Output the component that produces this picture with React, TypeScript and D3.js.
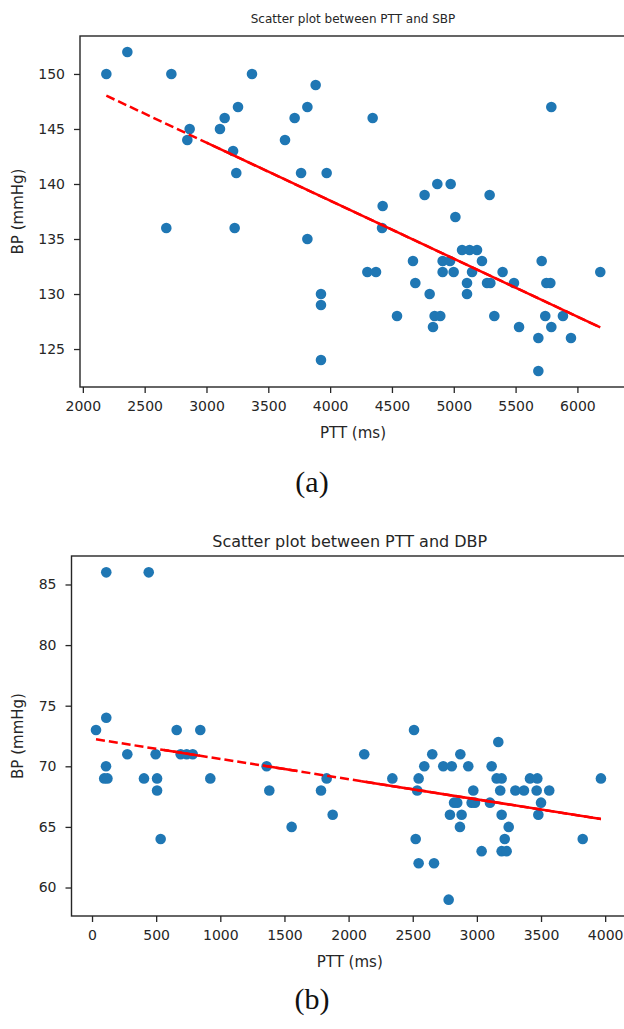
import React, { useEffect, useRef } from 'react';
import * as d3 from 'd3';

// (a) PTT vs systolic BP
const pttA = [
  2190, 2360, 2716, 3368, 3883, 3255, 3816, 3147, 3713, 2864, 3109, 2845, 3635, 3215,
  3241, 3765, 3972, 2675, 3228, 3816, 3926, 3926, 3926, 4344, 5789, 4425, 4764, 4867,
  4975, 5290, 5013, 4420, 5067, 5128, 5188, 4670, 4910, 4970, 5228, 5711, 4301, 4371,
  4910, 4999, 5148, 5395, 6185, 4689, 5107, 5269, 5296, 5487, 5749, 5781, 4805, 5107,
  4541, 4845, 4891, 5328, 5740, 5883, 4832, 5528, 5789, 5684, 5948, 5684
];
const sbpA = [
  150, 152, 150, 150, 149, 147, 147, 146, 146, 145, 145, 144, 144, 143,
  141, 141, 141, 136, 136, 135, 130, 129, 124, 146, 147, 138, 139, 140,
  140, 139, 137, 136, 134, 134, 134, 133, 133, 133, 133, 133, 132, 132,
  132, 132, 132, 132, 132, 131, 131, 131, 131, 131, 131, 131, 130, 130,
  128, 128, 128, 128, 128, 128, 127, 127, 127, 126, 126, 123
];

// (b) PTT vs diastolic BP
const pttB = [
  111, 442, 111, 31, 660, 844, 2510, 3167, 275, 496, 691, 738, 785, 109, 1361, 95, 120,
  405, 507, 922, 1829, 507, 1382, 1785, 1876, 1556, 535, 2122, 2652, 2871, 2590, 2738,
  2804, 2933, 3115, 2341, 2546, 3154, 3193, 3414, 3471, 3967, 2535, 2972, 3182, 3300,
  3367, 3466, 3564, 2822, 2847, 2959, 2985, 3102, 3500, 2790, 2881, 3193, 3479, 2868,
  3248, 2523, 3217, 3825, 3037, 3193, 3232, 2546, 2666, 2780
];
const dbpB = [
  86, 86, 74, 73, 73, 73, 73, 72, 71, 71, 71, 71, 71, 70, 70, 69, 69,
  69, 69, 69, 69, 68, 68, 68, 66, 65, 64, 71, 71, 71, 70, 70,
  70, 70, 70, 69, 69, 69, 69, 69, 69, 69, 68, 68, 68, 68,
  68, 68, 68, 67, 67, 67, 67, 67, 67, 66, 66, 66, 66, 65,
  65, 64, 64, 64, 63, 63, 63, 62, 62, 59
];

// tick labels
const xTicksA = [2000, 2500, 3000, 3500, 4000, 4500, 5000, 5500, 6000];
const yTicksA = [125, 130, 135, 140, 145, 150];
const xTicksB = [0, 500, 1000, 1500, 2000, 2500, 3000, 3500, 4000];
const yTicksB = [60, 65, 70, 75, 80, 85];

// fitted lines (intercept, slope per ms)
const fitA = [159.57, -0.005271];
const fitB = [72.28, -0.00167];

// PTT ranges where the overdrawn dashed fit looks solid
const solidSpansA = [[3000, 6185]];
const solidSpansB = [[560, 840], [1330, 1600], [2100, 3967]];

const titles = ['Scatter plot between PTT and SBP', 'Scatter plot between PTT and DBP'];
const captions = ['(a)', '(b)'];

const FONT = 'DejaVu Sans, sans-serif';
const INK = '#262626';

const drawPanel = (svg, p) => {
  const x = d3.scaleLinear().domain(p.xDomain).range([p.left, p.right]);
  const y = d3.scaleLinear().domain(p.yDomain).range([p.bottom, p.top]);
  const g = svg.append('g');

  // points
  g.append('g')
    .selectAll('circle')
    .data(p.xs.map((v, i) => [v, p.ys[i]]))
    .enter().append('circle')
    .attr('cx', d => x(d[0]))
    .attr('cy', d => y(d[1]))
    .attr('r', 5.3)
    .attr('fill', '#1f77b4');

  // regression line, dashed over the whole range, solid where it is overdrawn
  const fit = v => p.fit[0] + p.fit[1] * v;
  const line = d3.line().x(d => x(d)).y(d => y(fit(d)));
  g.append('path')
    .attr('d', line(d3.extent(p.xs)))
    .attr('fill', 'none')
    .attr('stroke', '#ff0000')
    .attr('stroke-width', 2.5)
    .attr('stroke-dasharray', '9,4');
  p.solid.forEach(s => {
    g.append('path')
      .attr('d', line(s))
      .attr('fill', 'none')
      .attr('stroke', '#ff0000')
      .attr('stroke-width', 2.5);
  });

  // frame
  g.append('rect')
    .attr('x', p.left)
    .attr('y', p.top)
    .attr('width', p.right - p.left)
    .attr('height', p.bottom - p.top)
    .attr('fill', 'none')
    .attr('stroke', INK)
    .attr('stroke-width', 1.4);

  const xAxis = g.append('g')
    .attr('transform', `translate(0,${p.bottom})`)
    .call(d3.axisBottom(x).tickValues(p.xTicks).tickSize(6).tickPadding(8).tickFormat(d3.format('d')));
  const yAxis = g.append('g')
    .attr('transform', `translate(${p.left},0)`)
    .call(d3.axisLeft(y).tickValues(p.yTicks).tickSize(6).tickPadding(9).tickFormat(d3.format('d')));
  [xAxis, yAxis].forEach(a => {
    a.select('.domain').remove();
    a.selectAll('line').attr('stroke', INK).attr('stroke-width', 1.3);
    a.selectAll('text').attr('fill', INK).attr('font-family', FONT).attr('font-size', 14);
  });

  const cx = (p.left + p.right) / 2;
  g.append('text')
    .attr('x', cx)
    .attr('y', p.titleY)
    .attr('text-anchor', 'middle')
    .attr('font-family', FONT)
    .attr('font-size', p.titleSize)
    .attr('fill', INK)
    .text(p.title);

  g.append('text')
    .attr('x', cx)
    .attr('y', p.bottom + 51)
    .attr('text-anchor', 'middle')
    .attr('font-family', FONT)
    .attr('font-size', 15)
    .attr('fill', INK)
    .text('PTT (ms)');

  g.append('text')
    .attr('transform', `translate(${p.yLabelX},${(p.top + p.bottom) / 2}) rotate(-90)`)
    .attr('text-anchor', 'middle')
    .attr('font-family', FONT)
    .attr('font-size', 15)
    .attr('fill', INK)
    .text('BP (mmHg)');

  g.append('text')
    .attr('x', 312)
    .attr('y', p.captionY)
    .attr('text-anchor', 'middle')
    .attr('font-family', 'Liberation Serif, serif')
    .attr('font-size', 30)
    .attr('fill', '#111')
    .text(p.caption);
};

const App = () => {
  const ref = useRef(null);

  useEffect(() => {
    if (!ref.current) return;
    const svg = d3.select(ref.current);
    svg.selectAll('*').remove();

    drawPanel(svg, {
      xs: pttA, ys: sbpA, fit: fitA, solid: solidSpansA,
      xDomain: [1977, 6393], yDomain: [121.55, 153.45],
      left: 80, right: 626, top: 36, bottom: 387,
      xTicks: xTicksA, yTicks: yTicksA,
      title: titles[0], titleSize: 12, titleY: 23,
      caption: captions[0], captionY: 492, yLabelX: 23
    });
    drawPanel(svg, {
      xs: pttB, ys: dbpB, fit: fitB, solid: solidSpansB,
      xDomain: [-160, 4178], yDomain: [57.65, 87.35],
      left: 71.5, right: 628, top: 556, bottom: 916,
      xTicks: xTicksB, yTicks: yTicksB,
      title: titles[1], titleSize: 16, titleY: 547,
      caption: captions[1], captionY: 1009, yLabelX: 23
    });
  }, []);

  return (
    <svg
      ref={ref}
      width={624}
      height={1029}
      style={{ position: 'absolute', left: 0, top: 0, background: '#fff' }}
    />
  );
};

export default App;
